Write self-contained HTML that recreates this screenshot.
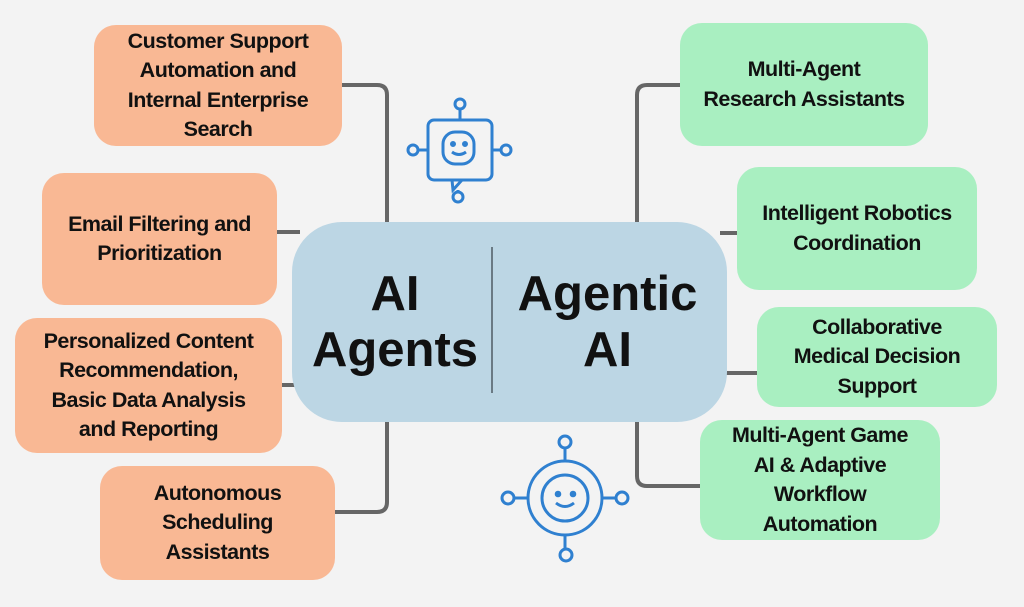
<!DOCTYPE html>
<html><head><style>
body{margin:0;width:1024px;height:607px;background:#f3f3f3;position:relative;overflow:hidden;font-family:"Liberation Sans",sans-serif}
.b{position:absolute;border-radius:22px;display:flex;align-items:center;justify-content:center;text-align:center;font-weight:bold;font-size:21.5px;line-height:29.5px;color:#111;letter-spacing:-0.5px;white-space:nowrap}
.o{background:#f9b894}.g{background:#a9efc1}
.c{position:absolute;left:292px;top:222px;width:435px;height:200px;background:#bcd6e4;border-radius:50px}
.t{position:absolute;font-weight:bold;font-size:49px;line-height:56px;text-align:center;color:#111}
</style></head><body>
<svg width="1024" height="607" style="position:absolute;left:0;top:0" fill="none" stroke="#666" stroke-width="4">
<path d="M340 85 H377 Q387 85 387 95 V222"/>
<path d="M275 232 H300"/>
<path d="M280 385 H300"/>
<path d="M387 420 V502 Q387 512 377 512 H335"/>
<path d="M685 85 H647 Q637 85 637 95 V222"/>
<path d="M720 233 H740"/>
<path d="M720 373 H760"/>
<path d="M637 420 V476 Q637 486 647 486 H702"/>
</svg>
<div class="b o" style="left:94px;top:25px;width:248px;height:121px">Customer Support<br>Automation and<br>Internal Enterprise<br>Search</div>
<div class="b o" style="left:42px;top:173px;width:235px;height:132px">Email Filtering and<br>Prioritization</div>
<div class="b o" style="left:15px;top:318px;width:267px;height:135px">Personalized Content<br>Recommendation,<br>Basic Data Analysis<br>and Reporting</div>
<div class="b o" style="left:100px;top:466px;width:235px;height:114px">Autonomous<br>Scheduling<br>Assistants</div>
<div class="b g" style="left:680px;top:23px;width:248px;height:123px">Multi-Agent<br>Research Assistants</div>
<div class="b g" style="left:737px;top:167px;width:240px;height:123px">Intelligent Robotics<br>Coordination</div>
<div class="b g" style="left:757px;top:307px;width:240px;height:100px">Collaborative<br>Medical Decision<br>Support</div>
<div class="b g" style="left:700px;top:420px;width:240px;height:120px">Multi-Agent Game<br>AI &amp; Adaptive<br>Workflow<br>Automation</div>
<div class="c"></div>
<div style="position:absolute;left:491px;top:247px;width:2px;height:146px;background:#6a7a84"></div>
<div class="t" style="left:300px;top:266px;width:190px">AI<br>Agents</div>
<div class="t" style="left:495px;top:266px;width:225px">Agentic<br>AI</div>
<svg width="1024" height="607" style="position:absolute;left:0;top:0" fill="none" stroke="#2f80d0" stroke-width="3">
<rect x="428" y="120" width="64" height="60" rx="6"/>
<path d="M452 180 L453 190 L462 180"/>
<rect x="443" y="132" width="31" height="32" rx="12"/>
<circle cx="453" cy="144" r="1.5" fill="#2f80d0"/><circle cx="465" cy="144" r="1.5" fill="#2f80d0"/>
<path d="M452 152 Q459 157 466 152"/>
<path d="M460 120 V109 M428 150 H418 M492 150 H501 M458 190 V192"/>
<circle cx="460" cy="104" r="5"/><circle cx="413" cy="150" r="5"/><circle cx="506" cy="150" r="5"/><circle cx="458" cy="197" r="5"/>
<circle cx="565" cy="498" r="37"/><circle cx="565" cy="498" r="23"/>
<circle cx="558" cy="494" r="1.8" fill="#2f80d0"/><circle cx="573" cy="494" r="1.8" fill="#2f80d0"/>
<path d="M556 503 Q565 510 574 503"/>
<path d="M565 461 V448 M528 498 H514 M602 498 H616 M565 535 V549"/>
<circle cx="565" cy="442" r="6"/><circle cx="508" cy="498" r="6"/><circle cx="622" cy="498" r="6"/><circle cx="566" cy="555" r="6"/>
</svg>
</body></html>
